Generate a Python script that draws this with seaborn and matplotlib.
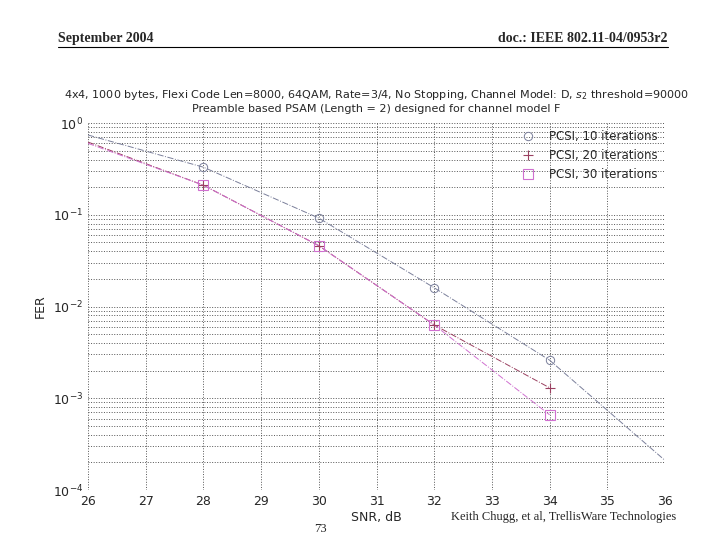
import matplotlib
matplotlib.use("Agg")
import matplotlib.pyplot as plt
import seaborn as sns
import pandas as pd
import numpy as np

snr_line = [26, 28, 30, 32, 34, 36]
fer10_line = [0.74, 0.33, 0.092, 0.016, 0.0026, 0.00021]
snr_l2 = [26, 28, 30, 32, 34]
fer20_line = [0.62, 0.21, 0.046, 0.0063, 0.0013]
fer30_line = [0.60, 0.21, 0.046, 0.0063, 0.00066]
snr_mk = [28, 30, 32, 34]
fer10 = [0.33, 0.092, 0.016, 0.0026]
fer20 = [0.21, 0.046, 0.0063, 0.0013]
fer30 = [0.21, 0.046, 0.0063, 0.00066]
labels = ["PCSI, 10 iterations", "PCSI, 20 iterations", "PCSI, 30 iterations"]
colors = ["#7a7f9a", "#9a4060", "#d070d0"]

sns.set_style("white")
plt.rcParams['font.family'] = ['DejaVu Sans']
fig = plt.figure(figsize=(7.2, 5.4), dpi=100)
ax = fig.add_axes([88/720, 1-490/540, (665-88)/720, (490-123)/540])

sns.lineplot(x=snr_line, y=fer10_line, ax=ax, color=colors[0], lw=0.7, linestyle="-.")
sns.lineplot(x=snr_l2, y=fer20_line, ax=ax, color=colors[1], lw=0.7, linestyle="-.")
sns.lineplot(x=snr_l2, y=fer30_line, ax=ax, color=colors[2], lw=0.7, linestyle="-.")
ax.plot(snr_mk, fer10, 'o', mfc='none', mec=colors[0], ms=6, mew=0.7, ls='none', label=labels[0])
ax.plot(snr_mk, fer20, '+', color=colors[1], ms=7, mew=0.8, ls='none', label=labels[1])
ax.plot(snr_mk, fer30, 's', mfc='none', mec=colors[2], ms=7, mew=0.8, ls='none', label=labels[2])

ax.set_yscale('log')
ax.set_xlim(26, 36)
ax.set_ylim(1e-4, 1)
ax.set_xticks(range(26, 37))
ax.grid(True, which='major', ls=':', color='#555555', lw=0.7)
ax.grid(True, which='minor', axis='y', ls=':', color='#555555', lw=0.7)
for s in ax.spines.values():
    s.set_visible(False)
ax.tick_params(labelsize=9, length=0)
ax.set_xlabel("SNR, dB", fontsize=9, labelpad=2)
ax.set_ylabel("FER", fontsize=9)
ax.set_title("4x4, 1000 bytes, Flexi Code Len=8000, 64QAM, Rate=3/4, No Stopping, Channel Model: D, $s_2$ threshold=90000\n"
             "Preamble based PSAM (Length = 2) designed for channel model F", fontsize=8, pad=8)
leg = ax.legend(loc='upper right', fontsize=8.5, frameon=False, handletextpad=0.8, borderaxespad=0.2)

fig.text(58/720, 1-42/540, "September 2004", fontsize=10, fontweight='bold', family='Liberation Serif')
fig.text(668/720, 1-42/540, "doc.: IEEE 802.11-04/0953r2", fontsize=10, fontweight='bold', family='Liberation Serif', ha='right')
fig.add_artist(plt.Line2D([58/720, 668/720], [1-47/540, 1-47/540], color='black', lw=0.8))
fig.text(320/720, 1-532/540, "73", fontsize=9, family='Liberation Serif', ha='center')
fig.text(676/720, 1-520/540, "Keith Chugg, et al, TrellisWare Technologies", fontsize=9, family='Liberation Serif', ha='right')
fig.savefig("out.png", dpi=100)
